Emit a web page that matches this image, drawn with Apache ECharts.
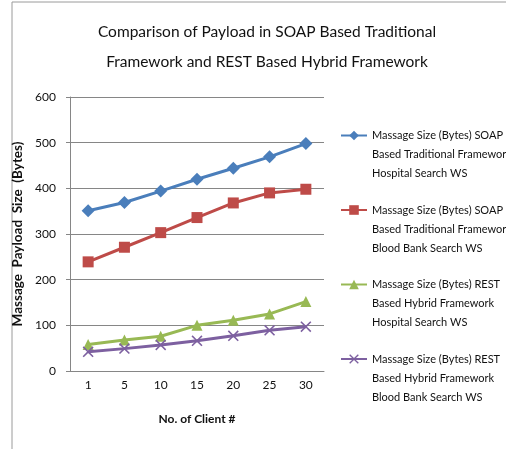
<!DOCTYPE html>
<html>
<head>
<meta charset="utf-8">
<script src="https://cdn.jsdelivr.net/npm/echarts@6/dist/echarts.min.js"></script>
<style>
  html, body { margin: 0; padding: 0; background: #fff; }
  #chart { width: 506px; height: 449px; }
</style>
</head>
<body>
<div id="chart"></div>
<script>
  // data
  var clients = ['1', '5', '10', '15', '20', '25', '30'];
  var soapHospital = [351, 369, 394, 420, 444, 469, 498];
  var soapBloodBank = [239, 271, 303, 336, 368, 390, 398];
  var restHospital = [58, 68, 76, 100, 111, 125, 152];
  var restBloodBank = [42, 49, 57, 66, 77, 89, 97];
  var seriesNames = [
    'Massage Size (Bytes) SOAP\nBased Traditional Framework\nHospital Search WS',
    'Massage Size (Bytes) SOAP\nBased Traditional Framework\nBlood Bank Search WS',
    'Massage Size (Bytes) REST\nBased Hybrid Framework\nHospital Search WS',
    'Massage Size (Bytes) REST\nBased Hybrid Framework\nBlood Bank Search WS'
  ];

  var font = 'Lato';
  var crossPath = 'path://M0,1L1,0L5,4L9,0L10,1L6,5L10,9L9,10L5,6L1,10L0,9L4,5Z';

  function makeLine(name, data, color, symbol, size) {
    return {
      name: name,
      type: 'line',
      data: data,
      symbol: symbol,
      symbolSize: size,
      showAllSymbol: true,
      lineStyle: { color: color, width: 3 },
      itemStyle: { color: color },
      emphasis: { disabled: true },
      animation: false
    };
  }

  var chart = echarts.init(document.getElementById('chart'));
  chart.setOption({
    backgroundColor: '#fff',
    graphic: [{
      type: 'rect',
      shape: { x: 12, y: 2, width: 600, height: 600 },
      style: { fill: 'none', stroke: '#9a9a9a', lineWidth: 1 },
      silent: true
    }],
    title: {
      text: 'Comparison of Payload in SOAP Based Traditional\nFramework and REST Based Hybrid Framework',
      left: 262,
      textAlign: 'center',
      top: 12,
      textStyle: { fontFamily: font, fontSize: 15.5, fontWeight: 'normal', color: '#111', lineHeight: 30 }
    },
    legend: {
      orient: 'vertical',
      left: 335,
      top: 83,
      itemWidth: 26,
      itemHeight: 12,
      itemGap: -20.5,
      selectedMode: false,
      // two blank lines first so the icon sits beside the first text line
      formatter: function (name) { return '\n\n' + name; },
      textStyle: { fontFamily: font, fontSize: 11, color: '#111', lineHeight: 19 },
      data: seriesNames
    },
    grid: { left: 70, right: 182, top: 97, bottom: 78 },
    xAxis: {
      type: 'category',
      data: clients,
      boundaryGap: true,
      name: 'No. of Client #',
      nameLocation: 'middle',
      nameGap: 42,
      nameTextStyle: { fontFamily: font, fontSize: 12, fontWeight: 'bold', color: '#111' },
      axisLine: { lineStyle: { color: '#868686', width: 1 } },
      axisTick: { show: false },
      axisLabel: { fontFamily: font, fontSize: 12, color: '#111', margin: 8 }
    },
    yAxis: {
      type: 'value',
      min: 0,
      max: 600,
      interval: 100,
      name: 'Massage  Payload  Size  (Bytes)',
      nameLocation: 'middle',
      nameGap: 31,
      nameTextStyle: { fontFamily: font, fontSize: 13.5, fontWeight: 'bold', color: '#111' },
      axisLine: { show: true, lineStyle: { color: '#868686', width: 1 } },
      axisTick: { show: true, length: 4, lineStyle: { color: '#868686' } },
      axisLabel: { fontFamily: font, fontSize: 12, color: '#111', margin: 14 },
      splitLine: { lineStyle: { color: '#868686', width: 1 } }
    },
    series: [
      makeLine(seriesNames[0], soapHospital, '#4A7EBB', 'diamond', 13),
      makeLine(seriesNames[1], soapBloodBank, '#BE4B48', 'rect', 11),
      makeLine(seriesNames[2], restHospital, '#98B954', 'triangle', 11),
      makeLine(seriesNames[3], restBloodBank, '#7D60A0', crossPath, 11)
    ]
  });
</script>
</body>
</html>
